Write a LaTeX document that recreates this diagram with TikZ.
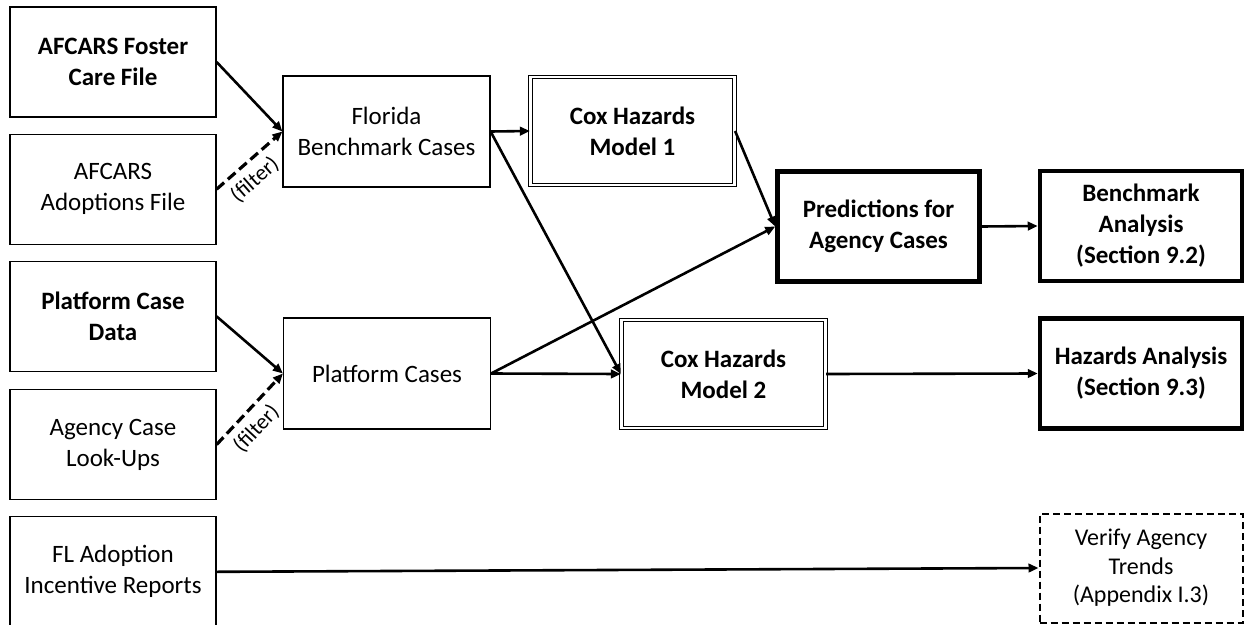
\documentclass[tikz,border=0pt]{standalone}
\usepackage{fontspec}
\setmainfont{Carlito}
\usetikzlibrary{arrows.meta, positioning}

\begin{document}
\begin{tikzpicture}[
  x=1pt, y=-1pt,
  node distance=16pt,
  box/.style={draw, align=center, inner sep=2pt, line width=1.2pt,
              minimum width=206pt, minimum height=110pt,
              font=\fontsize{25}{31}\selectfont},
  keybox/.style={box, font=\fontsize{25}{31}\selectfont\bfseries},
  stagebox/.style={box, minimum width=207pt, minimum height=111pt},
  modelbox/.style={keybox, double, double distance=2.2pt, line width=1.2pt,
                   minimum width=204pt, minimum height=108pt},
  outbox/.style={keybox, line width=4.5pt, minimum width=202pt, minimum height=110pt},
  checkbox/.style={box, line width=2pt, dash pattern=on 7pt off 4pt,
                   minimum width=203pt, minimum height=109pt,
                   font=\fontsize{24}{28.5}\selectfont},
  arr/.style={-{Triangle[length=10pt, width=8.5pt]}, line width=2.6pt},
  filterarr/.style={arr, line width=3.2pt, dash pattern=on 10pt off 5pt},
  filterlbl/.style={font=\fontsize{22}{24}\selectfont, sloped, below=6pt, pos=0.4, inner sep=1pt},
]
\useasboundingbox (0,0) rectangle (1245,624);

% sources
\node[keybox] (foster) at (113,62) {AFCARS Foster\\Care File};
\node[box, below=of foster] (adopt) {AFCARS\\Adoptions File};
\node[keybox, below=of adopt] (pdata) {Platform Case\\Data};
\node[box, below=17pt of pdata] (lookup) {Agency Case\\Look-Ups};
\node[box, below=of lookup] (incent) {FL Adoption\\Incentive Reports};

% case sets
\node[stagebox] (florida) at (386.5,131.5) {Florida\\Benchmark Cases};
\node[stagebox] (platform) at (387,373.5) {Platform Cases};

% models and outputs
\node[modelbox] (cox1) at (632.5,131) {Cox Hazards\\Model 1};
\node[modelbox] (cox2) at (723.5,374) {Cox Hazards\\Model 2};
\node[outbox] (pred) at (878.5,226.5) {Predictions for\\Agency Cases};
\node[outbox] (bench) at (1141,226) {Benchmark\\Analysis\\(Section 9.2)};
\node[outbox] (haz) at (1141,373.5) {Hazards Analysis\\(Section 9.3)};
\node[checkbox] (verify) at (1141,568) {Verify Agency\\Trends\\(Appendix I.3)};

\draw[arr] (foster.east) -- (florida.west);
\draw[filterarr] (adopt.east) -- node[filterlbl] {(filter)} (florida.west);
\draw[arr] (pdata.east) -- (platform.west);
\draw[filterarr] (lookup.east) -- node[filterlbl] {(filter)} (platform.west);

\draw[arr] (florida.east) -- (cox1.west);
\draw[arr] (florida.east) -- (cox2.west);
\draw[arr] (platform.east) -- (pred.west);
\draw[arr] (platform.east) -- (cox2.west);
\draw[arr] (cox1.east) -- (pred.west);
\draw[arr] (pred.east) -- (bench.west);
\draw[arr] (cox2.east) -- (haz.west);
\draw[arr] (incent.east) -- (verify.west);
\end{tikzpicture}
\end{document}
